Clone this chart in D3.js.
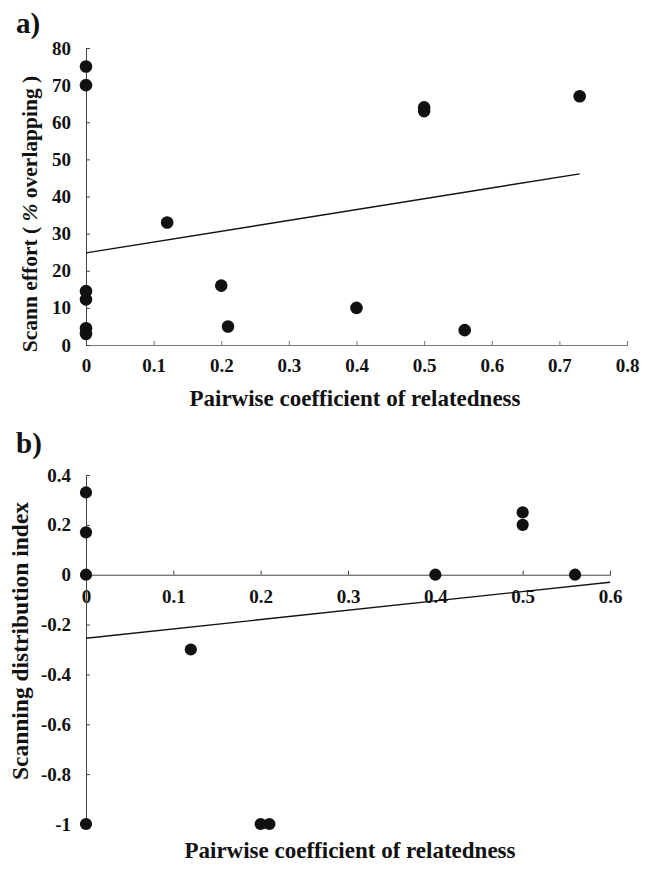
<!DOCTYPE html>
<html>
<head>
<meta charset="utf-8">
<script src="https://cdn.jsdelivr.net/npm/d3@7"></script>
<style>
  body { margin: 0; background: #fff; }
  svg { display: block; }
  text { font-family: "Liberation Serif", "Times New Roman", serif; font-weight: bold; fill: #111; }
</style>
</head>
<body>
<div id="chart"></div>
<script>
"use strict";

// panel a: relatedness vs scan effort (% overlapping)
var relA   = [0, 0, 0, 0, 0, 0, 0.12, 0.2, 0.21, 0.4, 0.5, 0.5, 0.56, 0.73];
var scanA  = [75, 70, 14.5, 12.3, 4.5, 3, 33, 16, 5, 10, 64, 63, 4, 67];
var trendA = [[0, 24.8], [0.73, 46.1]];
var xTicksA = [0, 0.1, 0.2, 0.3, 0.4, 0.5, 0.6, 0.7, 0.8];
var yTicksA = [0, 10, 20, 30, 40, 50, 60, 70, 80];

// panel b: relatedness vs scanning distribution index
var relB   = [0, 0, 0, 0, 0.12, 0.2, 0.21, 0.4, 0.5, 0.5, 0.56];
var distB  = [0.33, 0.17, 0, -1, -0.3, -1, -1, 0, 0.25, 0.2, 0];
var trendB = [[0, -0.255], [0.6, -0.03]];
var xTicksB = [0, 0.1, 0.2, 0.3, 0.4, 0.5, 0.6];
var yTicksB = [-1, -0.8, -0.6, -0.4, -0.2, 0, 0.2, 0.4];

var width = 649;
var height = 869;

var fmt = d => String(Math.round(d * 10) / 10);

var svg = d3.select("#chart").append("svg")
  .attr("width", width)
  .attr("height", height);

// ---- panel a ----
var xA = d3.scaleLinear().domain([0, 0.8]).range([86, 627]);
var yA = d3.scaleLinear().domain([0, 80]).range([345, 48]);

var gA = svg.append("g");

gA.append("g")
  .attr("transform", "translate(0," + yA(0) + ")")
  .call(d3.axisBottom(xA).tickValues(xTicksA).tickFormat(fmt)
    .tickSizeInner(-4).tickSizeOuter(-4).tickPadding(13.5))
  .call(g => g.selectAll("path,line").attr("stroke", "#777"));

gA.append("g")
  .attr("transform", "translate(" + xA(0) + ",0)")
  .call(d3.axisLeft(yA).tickValues(yTicksA).tickFormat(fmt)
    .tickSizeInner(-4).tickSizeOuter(-4).tickPadding(15))
  .call(g => g.selectAll("path,line").attr("stroke", "#444"));

gA.selectAll(".tick text")
  .attr("font-size", 19)
  .attr("font-family", null)
  .attr("fill", "#111");

gA.append("line")
  .attr("x1", xA(trendA[0][0])).attr("y1", yA(trendA[0][1]))
  .attr("x2", xA(trendA[1][0])).attr("y2", yA(trendA[1][1]))
  .attr("stroke", "#111").attr("stroke-width", 1.4);

gA.selectAll("circle")
  .data(relA.map((r, i) => [r, scanA[i]]))
  .enter().append("circle")
  .attr("cx", d => xA(d[0]))
  .attr("cy", d => yA(d[1]))
  .attr("r", 6.3)
  .attr("fill", "#111");

gA.append("text")
  .attr("x", 16).attr("y", 33)
  .attr("font-size", 29)
  .text("a)");

gA.append("text")
  .attr("x", 355).attr("y", 406)
  .attr("text-anchor", "middle")
  .attr("font-size", 23)
  .text("Pairwise coefficient of relatedness");

var yLabA = gA.append("text")
  .attr("transform", "translate(37,214) rotate(-90)")
  .attr("text-anchor", "middle")
  .attr("font-size", 21.5);
yLabA.append("tspan").text("Scann effort ( ");
yLabA.append("tspan").attr("font-style", "italic").text("%");
yLabA.append("tspan").text(" overlapping )");

// ---- panel b ----
var xB = d3.scaleLinear().domain([0, 0.6]).range([86, 610]);
var yB = d3.scaleLinear().domain([-1, 0.4]).range([824, 475]);

var gB = svg.append("g");

gB.append("g")
  .attr("transform", "translate(0," + yB(0) + ")")
  .call(d3.axisBottom(xB).tickValues(xTicksB).tickFormat(fmt)
    .tickSizeInner(-4).tickSizeOuter(-4).tickPadding(14.5))
  .call(g => g.selectAll("path,line").attr("stroke", "#444"));

gB.append("g")
  .attr("transform", "translate(" + xB(0) + ",0)")
  .call(d3.axisLeft(yB).tickValues(yTicksB).tickFormat(fmt)
    .tickSizeInner(-4).tickSizeOuter(-4).tickPadding(15))
  .call(g => g.selectAll("path,line").attr("stroke", "#444"));

gB.selectAll(".tick text")
  .attr("font-size", 19)
  .attr("font-family", null)
  .attr("fill", "#111");

gB.append("line")
  .attr("x1", xB(trendB[0][0])).attr("y1", yB(trendB[0][1]))
  .attr("x2", xB(trendB[1][0])).attr("y2", yB(trendB[1][1]))
  .attr("stroke", "#111").attr("stroke-width", 1.4);

gB.selectAll("circle")
  .data(relB.map((r, i) => [r, distB[i]]))
  .enter().append("circle")
  .attr("cx", d => xB(d[0]))
  .attr("cy", d => yB(d[1]))
  .attr("r", 6.1)
  .attr("fill", "#111");

gB.append("text")
  .attr("x", 16).attr("y", 453)
  .attr("font-size", 29)
  .text("b)");

gB.append("text")
  .attr("x", 350).attr("y", 858)
  .attr("text-anchor", "middle")
  .attr("font-size", 23)
  .text("Pairwise coefficient of relatedness");

gB.append("text")
  .attr("transform", "translate(28,641) rotate(-90)")
  .attr("text-anchor", "middle")
  .attr("font-size", 23.5)
  .text("Scanning distribution index");
</script>
</body>
</html>
